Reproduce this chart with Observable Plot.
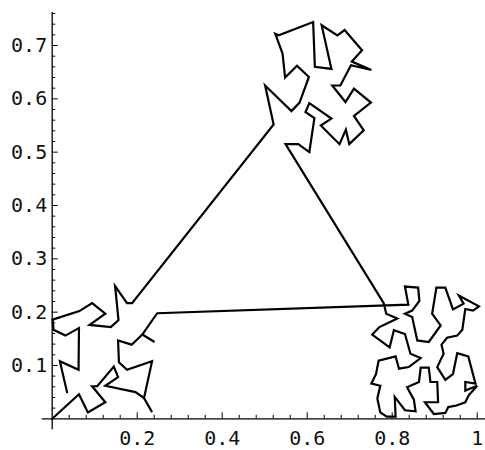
<!DOCTYPE html>
<html><head><meta charset="utf-8">
<script src="https://cdn.jsdelivr.net/npm/d3@7"></script>
<script src="https://cdn.jsdelivr.net/npm/@observablehq/plot@0.6"></script>
<style>body{margin:0;background:#fff}</style>
</head><body><div id="chart"></div>
<script>
// Main loop: left cluster (upper part) -> top cluster -> right cluster -> back to left cluster
const loopX = [
  0.035,0.018,0.062,0.063,0.031,0.003,0.001,0.064,0.094,0.125,0.088,0.138,0.156,0.148,0.176,0.188,
  0.521,0.501,0.563,0.582,0.604,0.576,0.548,0.542,0.525,0.533,0.614,0.618,0.657,0.634,0.671,0.688,
  0.729,0.705,0.751,0.703,0.678,0.659,0.690,0.710,0.750,0.710,0.733,0.699,0.691,0.676,0.632,0.657,
  0.605,0.596,0.617,0.605,0.579,0.549,
  0.780,0.786,0.812,0.770,0.753,0.794,0.804,0.830,0.843,0.867,
  0.839,0.816,0.808,0.768,0.762,0.751,0.772,0.765,0.772,0.787,0.808,0.806,0.830,0.855,0.851,0.835,0.863,0.867,
  0.886,0.890,0.906,0.908,0.877,0.898,0.925,0.932,0.951,0.972,0.980,1.000,0.972,0.972,0.996,0.979,0.953,0.943,0.925,0.906,0.921,0.916,0.929,0.953,0.965,
  0.972,0.990,1.004,0.957,0.968,0.943,0.925,0.904,0.894,0.914,0.886,0.859,0.847,0.830,0.847,0.864,0.861,0.830,0.838,
  0.247,0.212,0.187,0.155,0.157,0.176,0.235,0.216,0.234
];
const loopY = [
  0.050,0.108,0.092,0.170,0.156,0.167,0.186,0.202,0.217,0.197,0.176,0.172,0.185,0.249,0.217,0.217,
  0.552,0.625,0.577,0.593,0.641,0.662,0.640,0.685,0.722,0.719,0.744,0.660,0.656,0.738,0.719,0.729,
  0.691,0.670,0.654,0.663,0.625,0.625,0.594,0.619,0.593,0.568,0.541,0.515,0.542,0.515,0.550,0.563,
  0.592,0.575,0.564,0.500,0.515,0.515,
  0.217,0.197,0.188,0.172,0.158,0.134,0.166,0.159,0.122,0.114,
  0.097,0.094,0.117,0.109,0.084,0.066,0.062,0.038,0.012,0.004,0.004,0.041,0.016,0.014,0.036,0.059,0.069,0.096,
  0.096,0.069,0.069,0.031,0.031,0.009,0.011,0.022,0.025,0.031,0.044,0.062,0.053,0.069,0.066,0.117,0.123,0.084,0.073,0.097,0.122,0.139,0.152,0.156,0.167,
  0.206,0.203,0.211,0.231,0.216,0.205,0.246,0.246,0.197,0.175,0.144,0.147,0.191,0.197,0.203,0.221,0.246,0.248,0.214,
  0.198,0.158,0.139,0.147,0.106,0.092,0.108,0.039,0.014
];
// Short spur in the left cluster
const spurX = [0.212, 0.239];
const spurY = [0.158, 0.145];
// Piece starting at the origin
const startX = [0.000,0.063,0.084,0.125,0.094,0.106,0.145,0.155,0.125,0.196,0.216];
const startY = [0.000,0.046,0.012,0.031,0.061,0.061,0.098,0.078,0.062,0.050,0.039];

const xTicks = [0.2, 0.4, 0.6, 0.8, 1];
const yTicks = [0.1, 0.2, 0.3, 0.4, 0.5, 0.6, 0.7];

const pieces = [["loop", loopX, loopY], ["spur", spurX, spurY], ["start", startX, startY]];
const data = pieces.flatMap(([piece, xs, ys]) => xs.map((x, i) => ({x, y: ys[i], piece})));

const pxX = 1 / 425, pxY = 1 / 533;
const xMinor = d3.range(0.04, 1.0001, 0.04).filter(v => !xTicks.some(t => Math.abs(t - v) < 1e-6));
const yMinor = d3.range(0.02, 0.761, 0.02).filter(v => !yTicks.some(t => Math.abs(t - v) < 1e-6));
const font = "DejaVu Sans Mono";

const chart = Plot.plot({
  width: 485,
  height: 450,
  marginLeft: 51.7,
  marginRight: 8.3,
  marginTop: 45,
  marginBottom: 31.7,
  x: {domain: [0, 1], axis: null},
  y: {domain: [0, 0.7], axis: null},
  style: {background: "white"},
  marks: [
    Plot.ruleY([0], {x1: -10 * pxX, x2: 1 + 8.3 * pxX, stroke: "black", strokeWidth: 1.3}),
    Plot.ruleX([0], {y1: -11 * pxY, y2: 0.762, stroke: "black", strokeWidth: 1.3}),
    Plot.ruleX(xTicks, {x: d => d, y1: 0, y2: 6 * pxY, stroke: "black", strokeWidth: 1}),
    Plot.ruleX(xMinor, {x: d => d, y1: 0, y2: 3.5 * pxY, stroke: "black", strokeWidth: 1}),
    Plot.ruleY(yTicks, {y: d => d, x1: 0, x2: 6 * pxX, stroke: "black", strokeWidth: 1}),
    Plot.ruleY(yMinor, {y: d => d, x1: 0, x2: 3.5 * pxX, stroke: "black", strokeWidth: 1}),
    Plot.line(data, {x: "x", y: "y", z: "piece", stroke: "black", strokeWidth: 2.2, strokeLinejoin: "miter", strokeMiterlimit: 4}),
    Plot.text(xTicks, {x: d => d, y: 0, dy: 20, text: d => String(d), fontSize: 20, fontFamily: font, fill: "#111"}),
    Plot.text(yTicks, {x: 0, y: d => d, dx: -5, textAnchor: "end", text: d => String(d), fontSize: 20, fontFamily: font, fill: "#111"})
  ]
});
document.getElementById("chart").appendChild(chart);
</script>
</body></html>
